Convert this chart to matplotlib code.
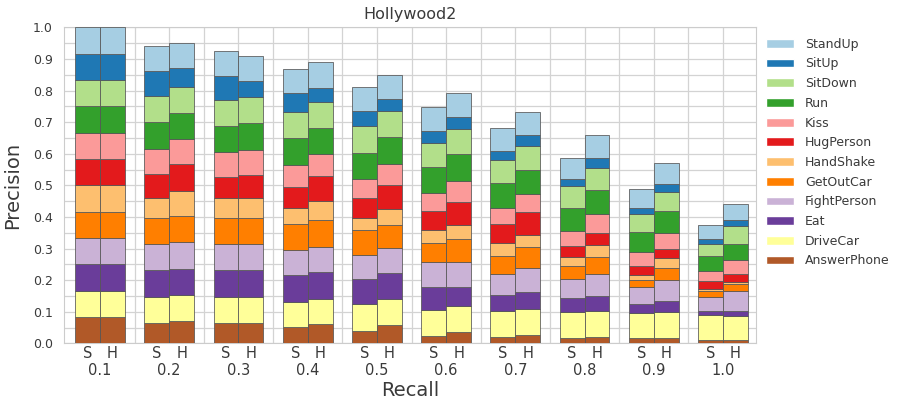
import numpy as np
import matplotlib
matplotlib.use("Agg")
import matplotlib.pyplot as plt
import seaborn as sns
from matplotlib.patches import Patch

# per-class precision at each recall level, for the two methods (S, H)
recall_levels = ["0.1", "0.2", "0.3", "0.4", "0.5", "0.6", "0.7", "0.8", "0.9", "1.0"]
classes = ["AnswerPhone", "DriveCar", "Eat", "FightPerson", "GetOutCar", "HandShake",
           "HugPerson", "Kiss", "Run", "SitDown", "SitUp", "StandUp"]
methods = ["S", "H"]

s_precision = [
    [1.0, 0.785, 0.785, 0.61, 0.48, 0.28, 0.25, 0.19, 0.19, 0.13],
    [1.0, 0.99, 0.99, 0.975, 1.0, 1.0, 0.975, 0.99, 0.975, 0.94],
    [1.0, 1.0, 1.0, 1.0, 0.95, 0.86, 0.61, 0.53, 0.35, 0.15],
    [1.0, 1.0, 0.99, 0.975, 0.92, 0.95, 0.82, 0.73, 0.63, 0.53],
    [1.0, 1.0, 1.0, 0.96, 0.95, 0.72, 0.68, 0.51, 0.28, 0.23],
    [1.0, 0.76, 0.76, 0.63, 0.48, 0.48, 0.46, 0.34, 0.19, 0.09],
    [1.0, 0.91, 0.785, 0.785, 0.75, 0.73, 0.73, 0.41, 0.33, 0.29],
    [1.0, 0.95, 0.95, 0.86, 0.72, 0.68, 0.63, 0.57, 0.53, 0.38],
    [1.0, 1.0, 1.0, 1.0, 1.0, 0.99, 0.94, 0.89, 0.76, 0.59],
    [1.0, 1.0, 0.97, 1.0, 1.0, 0.91, 0.89, 0.80, 0.67, 0.46],
    [1.0, 0.94, 0.92, 0.72, 0.58, 0.48, 0.33, 0.29, 0.25, 0.18],
    [1.0, 0.97, 0.95, 0.91, 0.91, 0.89, 0.85, 0.785, 0.70, 0.54],
]
h_precision = [
    [1.0, 0.835, 0.785, 0.73, 0.70, 0.42, 0.32, 0.25, 0.22, 0.13],
    [1.0, 1.0, 0.99, 0.975, 0.975, 1.0, 0.975, 0.975, 0.99, 0.92],
    [1.0, 1.0, 1.0, 1.0, 1.0, 0.73, 0.67, 0.58, 0.41, 0.19],
    [1.0, 1.0, 0.99, 0.975, 0.95, 0.95, 0.89, 0.82, 0.80, 0.76],
    [1.0, 1.0, 1.0, 1.0, 0.86, 0.85, 0.80, 0.66, 0.44, 0.24],
    [1.0, 0.97, 0.76, 0.73, 0.63, 0.54, 0.47, 0.44, 0.38, 0.10],
    [1.0, 1.0, 0.89, 0.94, 0.91, 0.89, 0.85, 0.48, 0.35, 0.29],
    [1.0, 0.94, 0.94, 0.835, 0.80, 0.80, 0.70, 0.70, 0.59, 0.53],
    [1.0, 1.0, 1.0, 1.0, 1.0, 1.0, 0.92, 0.91, 0.86, 0.63],
    [1.0, 1.0, 0.99, 0.99, 0.99, 0.95, 0.91, 0.85, 0.72, 0.66],
    [1.0, 0.71, 0.61, 0.51, 0.47, 0.48, 0.42, 0.39, 0.28, 0.25],
    [1.0, 0.95, 0.97, 0.99, 0.92, 0.91, 0.87, 0.85, 0.80, 0.61],
]

sns.set_style("whitegrid")
plt.rcParams["font.family"] = ["DejaVu Sans"]

colors = plt.get_cmap("Paired").colors[::-1]  # AnswerPhone brown ... StandUp light blue
grid_c = "#d3d3d3"
text_c = "#3a3a3a"

fig = plt.figure(figsize=(8.99, 4.04), dpi=100)
ax = fig.add_axes([0.0712, 0.150, 0.770, 0.782])

x = np.arange(len(recall_levels))
width = 0.36
offsets = [-width / 2, width / 2]

for off, prec in zip(offsets, [s_precision, h_precision]):
    # each class contributes precision / n_classes to the mean precision
    contrib = np.array(prec) / len(classes)
    bottom = np.zeros(len(recall_levels))
    for k, row in enumerate(contrib):
        ax.bar(x + off, row, width, bottom=bottom, color=colors[k],
               edgecolor="#555555", linewidth=0.55, zorder=3)
        bottom += row

ax.set_xlim(-0.52, 9.48)
ax.set_ylim(0, 1.0)

# recall values as major ticks, method letters under each bar as minor ticks
ax.set_xticks(x, labels=recall_levels)
ax.set_xticks(np.concatenate([x + o for o in offsets]),
              labels=[methods[0]] * len(x) + [methods[1]] * len(x), minor=True)
ax.tick_params(axis="x", which="major", pad=14, labelsize=10.5, length=0, labelcolor=text_c)
ax.tick_params(axis="x", which="minor", pad=2, labelsize=10.5, length=0, labelcolor=text_c)
ax.set_yticks(np.arange(0, 1.01, 0.1))
ax.set_yticks(np.arange(0.05, 1.0, 0.1), minor=True)
ax.tick_params(axis="y", which="both", labelsize=9, length=0, pad=8, labelcolor=text_c)
ax.yaxis.set_major_formatter(matplotlib.ticker.FormatStrFormatter("%.1f"))

ax.grid(axis="y", which="both", color=grid_c, linewidth=0.9, zorder=0)
ax.grid(axis="x", which="major", color=grid_c, linewidth=0.9, zorder=0)
ax.grid(axis="x", which="minor", visible=False)
for sep in x[:-1] + 0.5:
    ax.axvline(sep, color=grid_c, linewidth=0.9, zorder=0)
for s in ax.spines.values():
    s.set_color("#cccccc")

ax.set_title("Hollywood2", fontsize=11.5, color=text_c, pad=6)
ax.set_xlabel("Recall", fontsize=14, color=text_c, labelpad=2)
ax.set_ylabel("Precision", fontsize=14, color=text_c, labelpad=8)

handles = [Patch(facecolor=colors[k], label=classes[k]) for k in range(len(classes))][::-1]
ax.legend(handles=handles, loc="upper left", bbox_to_anchor=(0.998, 1.003), frameon=False,
          fontsize=9, labelspacing=0.535, handlelength=2.2, handleheight=0.7,
          handletextpad=0.9, labelcolor=text_c)

fig.savefig("out.png", dpi=100)
